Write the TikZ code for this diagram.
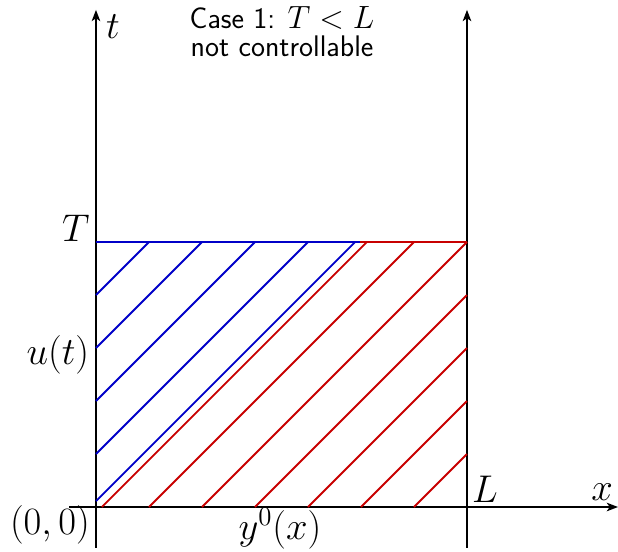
\documentclass[tikz,border=0pt]{standalone}
\usetikzlibrary{arrows.meta}
\definecolor{myblue}{RGB}{0,0,200}
\definecolor{myred}{RGB}{200,0,0}
\begin{document}
\begin{tikzpicture}[x=1cm,y=1cm,
  axis/.style={line width=1.2pt,-{Stealth[length=6pt,width=4.5pt,inset=1.5pt]}},
  bl/.style={myblue,line width=1pt},
  rd/.style={myred,line width=1pt},
  lab/.style={font=\huge,inner sep=0pt}]
\useasboundingbox (-1.811,-0.830) rectangle (9.849,9.566);
% axes
\coordinate (xs) at (-0.5,0);
\coordinate (xe) at (9.85,0);
\coordinate (ts) at (0,-0.77);
\coordinate (te) at (0,9.38);
\coordinate (ls) at (7,-0.77);
\coordinate (le) at (7,9.38);
\draw[axis] (xs) -- (xe);
\draw[axis] (ts) -- (te);
\draw[axis] (ls) -- (le);
% T line
\draw[bl] (0,5) -- (4.98,5);
\draw[rd] (4.98,5) -- (7,5);
% blue characteristics
\foreach \s in {1,2,3,4} {
  \draw[bl] (0,5-\s) -- (\s,5);
}
\draw[bl] (0,0.11) -- (4.89,5);
% red characteristics
\draw[rd] (0.11,0) -- (5.11,5);
\foreach \s in {1,2} {
  \draw[rd] (\s,0) -- (\s+5,5);
}
\foreach \s in {3,4,5,6} {
  \draw[rd] (\s,0) -- (7,7-\s);
}
% labels
\node[lab] (lt) at (0.32,9.07) {$t$};
\node[lab] (lx) at (9.55,0.28) {$x$};
\node[lab] (lL) at (7.34,0.34) {$L$};
\node[lab] (lo) at (-0.87,-0.34) {$(0,0)$};
\node[lab] (ly) at (3.47,-0.40) {$y^0(x)$};
\node[lab] (lT) at (-0.38,5.26) {$T$};
\node[lab] (lu) at (-0.72,2.87) {$u(t)$};
\node[font=\fontsize{16}{18}\selectfont\sffamily,align=center,inner sep=0pt] (title) at (3.51,8.97) {Case 1: $T<L$\\[-3pt]not controllable};
\end{tikzpicture}
\end{document}
